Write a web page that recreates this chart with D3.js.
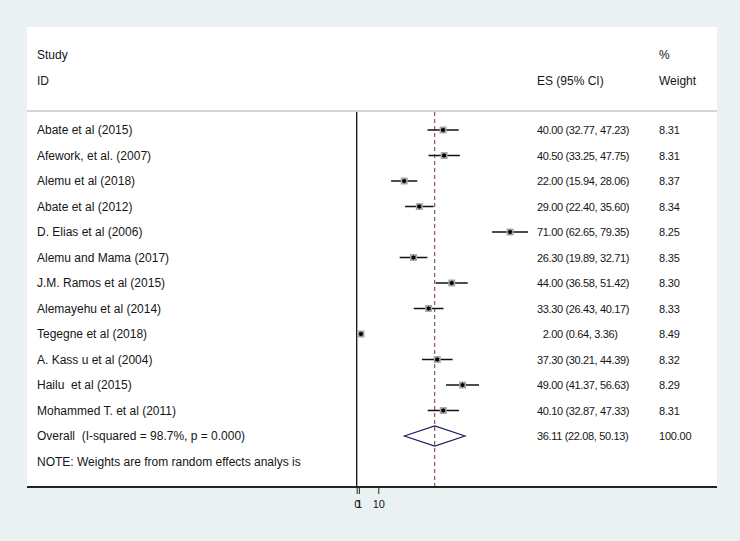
<!DOCTYPE html>
<html>
<head>
<meta charset="utf-8">
<script src="https://cdn.jsdelivr.net/npm/d3@7"></script>
<style>
  html, body { margin: 0; padding: 0; background: #eaf1f3; }
  svg { display: block; }
  text { font-family: "Liberation Sans", Arial, sans-serif; fill: #151515; white-space: pre; }
</style>
</head>
<body>
<svg id="chart" width="740" height="541"></svg>
<script>
// ---- data ----
const studies = [
  "Abate et al (2015)",
  "Afework, et al. (2007)",
  "Alemu et al (2018)",
  "Abate et al (2012)",
  "D. Elias et al (2006)",
  "Alemu and Mama (2017)",
  "J.M. Ramos et al (2015)",
  "Alemayehu et al (2014)",
  "Tegegne et al (2018)",
  "A. Kass u et al (2004)",
  "Hailu  et al (2015)",
  "Mohammed T. et al (2011)"
];
const es    = [40.00, 40.50, 22.00, 29.00, 71.00, 26.30, 44.00, 33.30, 2.00, 37.30, 49.00, 40.10];
const lower = [32.77, 33.25, 15.94, 22.40, 62.65, 19.89, 36.58, 26.43, 0.64, 30.21, 41.37, 32.87];
const upper = [47.23, 47.75, 28.06, 35.60, 79.35, 32.71, 51.42, 40.17, 3.36, 44.39, 56.63, 47.33];
const weights = ["8.31", "8.31", "8.37", "8.34", "8.25", "8.35", "8.30", "8.33", "8.49", "8.32", "8.29", "8.31"];
const overallLabel = "Overall  (I-squared = 98.7%, p = 0.000)";
const overallES = 36.11, overallLo = 22.08, overallHi = 50.13, overallWeight = "100.00";
const noteText = "NOTE: Weights are from random effects analys is";
const tickValues = [0, 1, 10];

// ---- layout ----
const W = 740, H = 541;
const panel = {x0: 27, x1: 717, y0: 27, y1: 487};
const headerLineY = 111;
const svg = d3.select("#chart");

const x = d3.scaleLinear().domain([0, 100]).range([356.7, 572.7]);
const rows = d3.range(studies.length + 2);
const y = d3.scalePoint().domain(rows).range([130, 130 + 25.5 * (rows.length - 1)]);

// backgrounds
svg.append("rect").attr("x", 0).attr("y", 0).attr("width", W).attr("height", H).attr("fill", "#eaf1f3");
svg.append("rect").attr("x", panel.x0).attr("y", panel.y0)
  .attr("width", panel.x1 - panel.x0).attr("height", panel.y1 - panel.y0).attr("fill", "#ffffff");

// header
const hdr = svg.append("g").style("font-size", "12px");
hdr.append("text").attr("x", 37).attr("y", 59).text("Study");
hdr.append("text").attr("x", 37).attr("y", 85).text("ID");
hdr.append("text").attr("x", 537).attr("y", 85).text("ES (95% CI)");
hdr.append("text").attr("x", 659).attr("y", 59).text("%");
hdr.append("text").attr("x", 659).attr("y", 85).text("Weight");
svg.append("line").attr("x1", panel.x0).attr("x2", panel.x1)
  .attr("y1", headerLineY).attr("y2", headerLineY)
  .attr("stroke", "#c4c4c4").attr("stroke-width", 1.6);

// null line and overall line
svg.append("line").attr("x1", x(0)).attr("x2", x(0)).attr("y1", headerLineY + 1).attr("y2", panel.y1)
  .attr("stroke", "#111").attr("stroke-width", 1.3);
svg.append("line").attr("x1", x(overallES)).attr("x2", x(overallES)).attr("y1", headerLineY + 1).attr("y2", panel.y1)
  .attr("stroke", "#7a4848").attr("stroke-width", 1.1).attr("stroke-dasharray", "4,3");

// study rows
const fmt = d3.format(".2f");
const esText = i => {
  const e = fmt(es[i]);
  const pad = e.length < 5 ? "\u2007" : "";
  return pad + e + " (" + fmt(lower[i]) + ", " + fmt(upper[i]) + ")";
};

const g = svg.append("g");
studies.forEach((s, i) => {
  const yy = y(i);
  g.append("text").attr("x", 37).attr("y", yy + 4).style("font-size", "12px").text(s);
  g.append("line").attr("x1", x(lower[i])).attr("x2", x(upper[i])).attr("y1", yy).attr("y2", yy)
    .attr("stroke", "#111").attr("stroke-width", 1.5);
  g.append("rect").attr("x", x(es[i]) - 3.5).attr("y", yy - 3.5).attr("width", 7).attr("height", 7)
    .attr("fill", "#a9a9a9");
  g.append("path").attr("transform", `translate(${x(es[i])},${yy})`)
    .attr("d", d3.symbol(d3.symbolAsterisk, 14)()).attr("stroke", "#000").attr("stroke-width", 1.2);
  g.append("circle").attr("cx", x(es[i])).attr("cy", yy).attr("r", 1.6).attr("fill", "#000");
  g.append("text").attr("x", 537).attr("y", yy + 4).style("font-size", "11px")
    .style("letter-spacing", "-0.35px").text(esText(i));
  g.append("text").attr("x", 659).attr("y", yy + 4).style("font-size", "11px")
    .style("letter-spacing", "-0.2px").text(weights[i]);
});

// overall row
const oy = y(studies.length);
g.append("text").attr("x", 37).attr("y", oy + 4).style("font-size", "12px").text(overallLabel);
const dia = [[x(overallLo), oy], [x(overallES), oy - 10], [x(overallHi), oy], [x(overallES), oy + 10]];
g.append("path").attr("d", d3.line()(dia) + "Z").attr("fill", "none")
  .attr("stroke", "#1c1c66").attr("stroke-width", 1.2);
g.append("text").attr("x", 537).attr("y", oy + 4).style("font-size", "11px")
  .style("letter-spacing", "-0.35px")
  .text(fmt(overallES) + " (" + fmt(overallLo) + ", " + fmt(overallHi) + ")");
g.append("text").attr("x", 659).attr("y", oy + 4).style("font-size", "11px")
  .style("letter-spacing", "-0.2px").text(overallWeight);

// note row
const ny = y(studies.length + 1);
g.append("text").attr("x", 37).attr("y", ny + 4).style("font-size", "12px").text(noteText);

// axis
svg.append("line").attr("x1", panel.x0).attr("x2", panel.x1).attr("y1", panel.y1).attr("y2", panel.y1)
  .attr("stroke", "#222").attr("stroke-width", 2);
const axis = d3.axisBottom(x).tickValues(tickValues).tickSize(6).tickPadding(6).tickFormat(d3.format("d"));
const ag = svg.append("g").attr("transform", `translate(0,${panel.y1 + 1})`).call(axis);
ag.select(".domain").remove();
ag.selectAll(".tick line").attr("stroke", "#222").attr("stroke-width", 1);
ag.selectAll(".tick text").style("font-size", "11px").style("font-family", "Liberation Sans, Arial, sans-serif").attr("fill", "#151515");
</script>
</body>
</html>
